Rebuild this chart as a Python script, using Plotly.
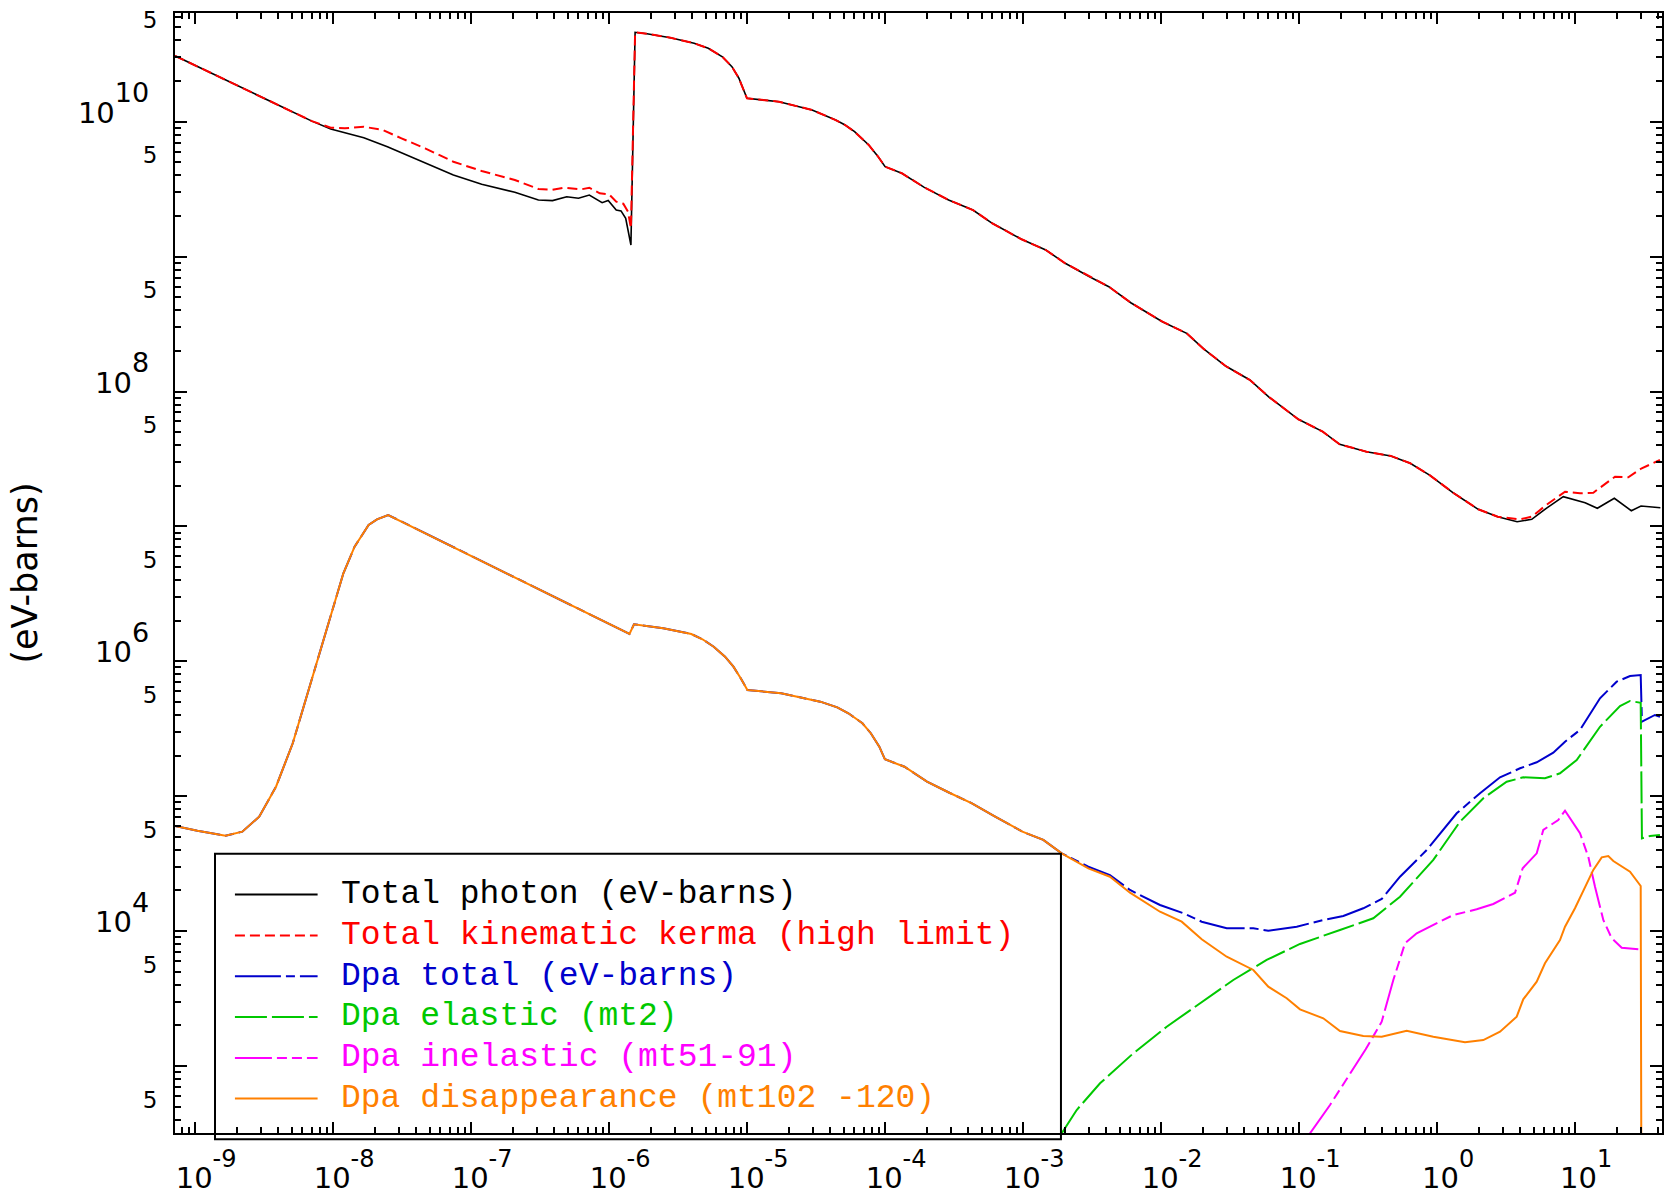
import plotly.graph_objects as go

# ---------------- data (energy in MeV, values in eV-barns) ----------------
photon_x = [7.15e-10, 7.02e-9, 9.61e-9, 1.669e-8, 2.474e-8, 4.64e-8, 7.44e-8, 1.193e-7,
            2.074e-7, 3.074e-7, 3.89e-7, 4.93e-7, 6.00e-7, 7.19e-7, 8.90e-7, 9.85e-7,
            1.126e-6, 1.22e-6, 1.319e-6, 1.439e-6, 1.543e-6, 1.879e-6, 2.786e-6, 4.13e-6,
            5.23e-6, 6.62e-6, 7.76e-6, 8.72e-6, 9.98e-6, 1.703e-5, 2.958e-5, 4.385e-5,
            5.13e-5, 6.01e-5, 7.61e-5, 8.91e-5, 1.0e-4, 1.321e-4,
            1.923e-4, 2.884e-4, 4.33e-4, 5.98e-4, 9.74e-4, 1.461e-3, 2.019e-3, 3.03e-3,
            4.18e-3, 6.03e-3, 1.022e-2, 1.533e-2, 2.035e-2, 2.934e-2, 4.40e-2, 6.08e-2,
            9.88e-2, 0.1483, 0.1968, 0.3079, 0.4618, 0.6384, 0.8825, 1.323,
            1.986, 2.749, 3.80, 4.85, 6.18, 8.21, 11.82, 14.49,
            19.24, 25.55, 30.04, 41.5]
photon_y = [3.08e10, 1.01e10, 8.83e9, 7.61e9, 6.53e9, 4.92e9, 4.03e9, 3.44e9,
            3.00e9, 2.63e9, 2.60e9, 2.78e9, 2.71e9, 2.86e9, 2.51e9, 2.61e9,
            2.215e9, 2.18e9, 1.923e9, 1.219e9, 4.60e10, 4.49e10, 4.19e10, 3.81e10,
            3.50e10, 3.03e10, 2.56e10, 2.10e10, 1.491e10, 1.407e10, 1.221e10, 1.029e10,
            9.45e9, 8.43e9, 6.72e9, 5.50e9, 4.64e9, 4.15e9,
            3.26e9, 2.63e9, 2.215e9, 1.765e9, 1.344e9, 1.119e9, 8.92e8, 7.10e8,
            5.98e8, 4.55e8, 3.29e8, 2.70e8, 2.07e8, 1.545e8, 1.217e8, 9.06e7,
            6.22e7, 5.04e7, 4.06e7, 3.58e7, 3.33e7, 2.94e7, 2.40e7, 1.760e7,
            1.339e7, 1.180e7, 1.083e7, 1.128e7, 1.362e7, 1.661e7, 1.499e7, 1.362e7,
            1.616e7, 1.307e7, 1.417e7, 1.376e7]

kerma_x = [7.15e-10, 7.02e-9, 9.61e-9, 1.218e-8, 1.669e-8, 2.284e-8, 3.13e-8, 4.64e-8,
           7.44e-8, 1.193e-7, 2.074e-7, 3.074e-7, 3.89e-7, 4.74e-7, 6.25e-7, 7.19e-7,
           8.55e-7, 1.0e-6, 1.126e-6, 1.267e-6, 1.371e-6, 1.439e-6, 1.543e-6, 1.879e-6,
           2.786e-6, 4.13e-6, 5.23e-6, 6.62e-6, 7.76e-6, 8.72e-6, 9.98e-6, 1.703e-5,
           2.958e-5, 4.385e-5, 5.13e-5, 6.01e-5, 7.61e-5, 8.91e-5,
           1.0e-4, 1.321e-4, 1.923e-4, 2.884e-4, 4.33e-4, 5.98e-4, 9.74e-4, 1.461e-3,
           2.019e-3, 3.03e-3, 4.18e-3, 6.03e-3, 1.022e-2, 1.533e-2, 2.035e-2, 2.934e-2,
           4.40e-2, 6.08e-2, 9.88e-2, 0.1483, 0.1968, 0.3079, 0.4618, 0.6384,
           0.8825, 1.323, 1.986, 2.749, 3.99, 4.85, 6.18, 8.45,
           10.85, 13.55, 19.46, 24.29, 30.39, 41.2]
kerma_y = [3.08e10, 1.01e10, 9.03e9, 8.94e9, 9.18e9, 8.68e9, 7.53e9, 6.35e9,
           5.05e9, 4.31e9, 3.70e9, 3.17e9, 3.13e9, 3.24e9, 3.15e9, 3.24e9,
           2.945e9, 2.895e9, 2.553e9, 2.466e9, 2.152e9, 1.621e9, 4.60e10, 4.49e10,
           4.19e10, 3.81e10, 3.50e10, 3.03e10, 2.56e10, 2.10e10, 1.491e10, 1.407e10,
           1.221e10, 1.029e10, 9.45e9, 8.43e9, 6.72e9, 5.50e9,
           4.64e9, 4.15e9, 3.26e9, 2.63e9, 2.215e9, 1.765e9, 1.344e9, 1.119e9,
           8.92e8, 7.10e8, 5.98e8, 4.55e8, 3.29e8, 2.70e8, 2.07e8, 1.545e8,
           1.217e8, 9.06e7, 6.22e7, 5.04e7, 4.06e7, 3.58e7, 3.33e7, 2.94e7,
           2.40e7, 1.760e7, 1.339e7, 1.180e7, 1.128e7, 1.180e7, 1.441e7, 1.808e7,
           1.760e7, 1.778e7, 2.336e7, 2.312e7, 2.697e7, 3.107e7]

dpa_total_x = [7.15e-10, 1.039e-9, 1.661e-9, 2.198e-9, 2.914e-9, 3.857e-9, 5.10e-9, 6.77e-9,
               8.96e-9, 1.187e-8, 1.431e-8, 1.647e-8, 1.808e-8, 2.080e-8, 2.507e-8, 1.405e-6,
               1.515e-6, 2.466e-6, 3.94e-6, 4.75e-6, 5.73e-6, 6.92e-6, 7.96e-6, 8.99e-6,
               1.005e-5, 1.764e-5, 3.39e-5, 4.50e-5, 5.42e-5, 6.85e-5, 7.88e-5, 9.08e-5,
               9.97e-5, 1.382e-4, 2.012e-4, 2.923e-4, 4.26e-4, 6.18e-4, 9.88e-4, 1.401e-3,
               1.904e-3, 2.969e-3, 4.26e-3, 5.95e-3, 9.82e-3, 1.448e-2, 1.969e-2, 2.988e-2,
               4.66e-2, 5.98e-2, 9.61e-2, 0.1497, 0.2091, 0.2918, 0.3968, 0.5385,
               0.8406, 1.387, 2.046, 2.857, 3.99, 5.27, 6.95, 8.45,
               10.85, 15.15, 20.01, 25.0, 29.88, 30.5, 37.9, 41.2]
dpa_total_y = [6.01e4, 5.55e4, 5.10e4, 5.46e4, 7.05e4, 1.176e5, 2.467e5, 6.48e5,
               1.706e6, 4.49e6, 7.07e6, 8.89e6, 1.024e7, 1.128e7, 1.215e7, 1.594e6,
               1.880e6, 1.756e6, 1.594e6, 1.456e6, 1.283e6, 1.082e6, 9.12e5, 7.48e5,
               6.13e5, 5.79e5, 5.02e5, 4.56e5, 4.12e5, 3.47e5, 2.93e5, 2.33e5,
               1.877e5, 1.654e5, 1.281e5, 1.061e5, 8.86e4, 7.13e4, 5.46e4, 4.74e4,
               3.77e4, 3.00e4, 2.60e4, 2.017e4, 1.561e4, 1.356e4, 1.174e4, 1.049e4,
               1.049e4, 1.007e4, 1.078e4, 1.209e4, 1.294e4, 1.476e4, 1.730e4, 2.53e4,
               3.99e4, 7.47e4, 1.051e5, 1.380e5, 1.610e5, 1.784e5, 2.10e5, 2.535e5,
               3.10e5, 5.32e5, 7.06e5, 7.78e5, 7.91e5, 3.57e5, 4.00e5, 3.88e5]

dpa_elastic_x = [1.904e-3, 2.445e-3, 3.61e-3, 6.29e-3, 1.098e-2, 1.913e-2, 3.335e-2, 5.82e-2,
                 0.1015, 0.1978, 0.3449, 0.5385, 0.9386, 1.465, 2.162, 3.193,
                 4.21, 6.05, 7.77, 10.27, 15.15, 21.16, 25.0, 29.88,
                 30.5, 34.9, 41.2]
dpa_elastic_y = [317, 472, 744, 1.242e3, 1.956e3, 2.915e3, 4.34e3, 6.11e3,
                 8.03e3, 1.019e4, 1.244e4, 1.799e4, 3.37e4, 6.47e4, 9.65e4, 1.281e5,
                 1.380e5, 1.357e5, 1.478e5, 1.855e5, 3.27e5, 4.66e5, 5.08e5, 4.93e5,
                 4.87e4, 5.07e4, 5.16e4]

dpa_inelastic_x = [0.12, 0.1675, 0.3038, 0.3968, 0.4816, 0.5856, 0.7115, 0.9386,
                   1.310, 1.936, 2.554, 3.67, 4.17, 5.27, 5.88, 7.55,
                   8.45, 10.85, 12.46, 13.94, 16.01, 18.42, 21.76, 28.71]
dpa_inelastic_y = [317, 514, 1.330e3, 2.13e3, 4.34e3, 8.12e3, 9.63e3, 1.110e4,
                   1.316e4, 1.451e4, 1.588e4, 1.926e4, 2.92e4, 3.77e4, 5.62e4, 6.66e4,
                   7.81e4, 5.31e4, 3.56e4, 2.13e4, 1.209e4, 8.85e3, 7.53e3, 7.33e3]

dpa_disapp_x = [7.15e-10, 1.039e-9, 1.661e-9, 2.198e-9, 2.914e-9, 3.857e-9, 5.10e-9, 6.77e-9,
                8.96e-9, 1.187e-8, 1.431e-8, 1.647e-8, 1.808e-8, 2.080e-8, 2.507e-8, 1.405e-6,
                1.515e-6, 2.466e-6, 3.94e-6, 4.75e-6, 5.73e-6, 6.92e-6, 7.96e-6, 8.99e-6,
                1.005e-5, 1.764e-5, 3.39e-5, 4.50e-5, 5.42e-5, 6.85e-5, 7.88e-5, 9.08e-5,
                9.97e-5, 1.382e-4, 2.012e-4, 2.923e-4, 4.26e-4, 6.18e-4, 9.88e-4, 1.401e-3,
                1.904e-3, 2.969e-3, 4.26e-3, 5.95e-3, 9.82e-3, 1.410e-2, 1.969e-2, 2.988e-2,
                4.66e-2, 5.98e-2, 8.13e-2, 0.1015, 0.1497, 0.1978, 0.2918, 0.3968,
                0.602, 0.9386, 1.593, 2.162, 2.857, 3.775, 4.21, 5.27,
                6.05, 7.77, 8.45, 9.98, 13.55, 15.59, 17.40, 18.92,
                25.0, 29.88, 30.39]
dpa_disapp_y = [6.01e4, 5.55e4, 5.10e4, 5.46e4, 7.05e4, 1.176e5, 2.467e5, 6.48e5,
                1.706e6, 4.49e6, 7.07e6, 8.89e6, 1.024e7, 1.128e7, 1.215e7, 1.594e6,
                1.880e6, 1.756e6, 1.594e6, 1.456e6, 1.283e6, 1.082e6, 9.12e5, 7.48e5,
                6.13e5, 5.79e5, 5.02e5, 4.56e5, 4.12e5, 3.47e5, 2.93e5, 2.33e5,
                1.877e5, 1.654e5, 1.281e5, 1.061e5, 8.86e4, 7.13e4, 5.46e4, 4.74e4,
                3.77e4, 2.92e4, 2.53e4, 1.926e4, 1.392e4, 1.174e4, 8.70e3, 6.46e3,
                5.15e3, 3.87e3, 3.18e3, 2.63e3, 2.257e3, 1.817e3, 1.669e3, 1.649e3,
                1.827e3, 1.649e3, 1.499e3, 1.558e3, 1.796e3, 2.32e3, 3.12e3, 4.22e3,
                5.77e3, 8.59e3, 1.078e4, 1.476e4, 2.84e4, 3.52e4, 3.60e4, 3.31e4,
                2.76e4, 2.16e4, 1.0e1]

series_names = ["Total photon (eV-barns)",
                "Total kinematic kerma (high limit)",
                "Dpa total (eV-barns)",
                "Dpa elastic (mt2)",
                "Dpa inelastic (mt51-91)",
                "Dpa disappearance (mt102 -120)"]

x_tick_vals = [1e-9, 1e-8, 1e-7, 1e-6, 1e-5, 1e-4, 1e-3, 1e-2, 1e-1, 1e0, 1e1]
x_tick_exp = ["-9", "-8", "-7", "-6", "-5", "-4", "-3", "-2", "-1", "0", "1"]
y_label_vals = [1e4, 1e6, 1e8, 1e10]
y_label_exp = ["4", "6", "8", "10"]
y_odd_decades = [1e3, 1e5, 1e7, 1e9]
y_five_vals = [5e2, 5e3, 5e4, 5e5, 5e6, 5e7, 5e8, 5e9, 5e10]
y_five_text = ["5", "5", "5", "5", "5", "5", "5", "5", "5"]

# ---------------- styling ----------------
styles = [
    dict(color="#000000", dash="solid", width=1.6),
    dict(color="#FF0000", dash="10px,5px", width=2),
    dict(color="#0000CC", dash="46px,5px,9px,5px", width=2),
    dict(color="#00C800", dash="32px,5px", width=2),
    dict(color="#FF00FF", dash="37px,5px,10px,5px,10px,5px", width=2),
    dict(color="#FF8000", dash="solid", width=2),
]
xs = [photon_x, kerma_x, dpa_total_x, dpa_elastic_x, dpa_inelastic_x, dpa_disapp_x]
ys = [photon_y, kerma_y, dpa_total_y, dpa_elastic_y, dpa_inelastic_y, dpa_disapp_y]

fig = go.Figure()
for name, x, y, st in zip(series_names, xs, ys, styles):
    fig.add_trace(go.Scatter(x=x, y=y, mode="lines", name=name, line=st, showlegend=False))
# empty carriers so the overlay tick axes are drawn
for xa, ya in [("x2", "y"), ("x", "y2"), ("x", "y3"), ("x", "y4")]:
    fig.add_trace(go.Scatter(x=[], y=[], xaxis=xa, yaxis=ya, showlegend=False, hoverinfo="skip"))

x_minor = [k * 10.0 ** n for n in range(-10, 2) for k in range(2, 10)]
y_minor = [k * 10.0 ** n for n in range(2, 11) for k in (2, 3, 4, 6, 7, 8, 9)]

XR = [-9.1457, 1.6297]
YR = [2.5033, 10.8058]
FONT = "DejaVu Sans, Verdana, sans-serif"

x_tick_text = ["10<sup><sup><span style='font-size:24px'>%s</span></sup></sup>" % e for e in x_tick_exp]
y_label_text = ["10<sup><sup><span style='font-size:27px'>%s</span></sup></sup>" % e for e in y_label_exp]

common = dict(showline=True, linewidth=2, linecolor="black", mirror="ticks",
              showgrid=False, zeroline=False, automargin=False,
              tickcolor="black", ticks="inside")

fig.update_layout(
    width=1665, height=1198,
    margin=dict(l=175, r=3, t=13, b=65, pad=0),
    paper_bgcolor="white", plot_bgcolor="white",
    showlegend=False,
    xaxis=dict(type="log", range=XR, tickmode="array", tickvals=x_tick_vals, ticktext=x_tick_text,
               ticklen=11, tickwidth=2, ticklabelstandoff=18, ticklabelshift=11,
               tickfont=dict(family=FONT, size=29, color="black"), **common),
    xaxis2=dict(type="log", range=XR, overlaying="x", anchor="y", side="bottom",
                tickmode="array", tickvals=x_minor, ticklen=6, tickwidth=2,
                showticklabels=False, **common),
    yaxis=dict(type="log", range=YR, tickmode="array", tickvals=y_label_vals, ticktext=y_label_text,
               ticklen=12, tickwidth=2, ticklabelstandoff=18, ticklabelshift=-9,
               tickfont=dict(family=FONT, size=29, color="black"),
               title=dict(text="(eV-barns)", font=dict(family=FONT, size=35, color="black"),
                          standoff=30),
               **common),
    yaxis2=dict(type="log", range=YR, overlaying="y", side="left", anchor="x",
                tickmode="array", tickvals=y_five_vals, ticktext=y_five_text,
                ticklen=6, tickwidth=2, ticklabelstandoff=11, ticklabelshift=-7,
                tickfont=dict(family=FONT, size=23, color="black"), **common),
    yaxis3=dict(type="log", range=YR, overlaying="y", side="left", anchor="x",
                tickmode="array", tickvals=y_odd_decades, ticklen=12, tickwidth=2,
                showticklabels=False, **common),
    yaxis4=dict(type="log", range=YR, overlaying="y", side="left", anchor="x",
                tickmode="array", tickvals=y_minor, ticklen=6, tickwidth=2,
                showticklabels=False, **common),
)

# ---------------- legend drawn as a boxed key ----------------
fig.add_shape(type="rect", xref="paper", yref="paper", x0=0.0269, x1=0.5958, y0=-0.0056, y1=0.2494,
              line=dict(color="black", width=2), fillcolor="rgba(0,0,0,0)", layer="above")
row_y = [0.2130, 0.1763, 0.1400, 0.1036, 0.0670, 0.0307]
for name, st, ry in zip(series_names, styles, row_y):
    fig.add_shape(type="line", xref="paper", yref="paper", x0=0.0403, x1=0.0959, y0=ry, y1=ry,
                  line=dict(color=st["color"], dash=st["dash"], width=2))
    fig.add_annotation(xref="paper", yref="paper", x=0.1103, y=ry, text=name, showarrow=False,
                       xanchor="left", yanchor="middle",
                       font=dict(family="Liberation Mono, Courier New, monospace", size=33,
                                 color=st["color"]))

fig.write_html("out.html", config={"displayModeBar": False},
               post_script="document.body.style.margin='0px';document.body.style.padding='0px';"
                           "document.body.style.overflow='hidden';")
